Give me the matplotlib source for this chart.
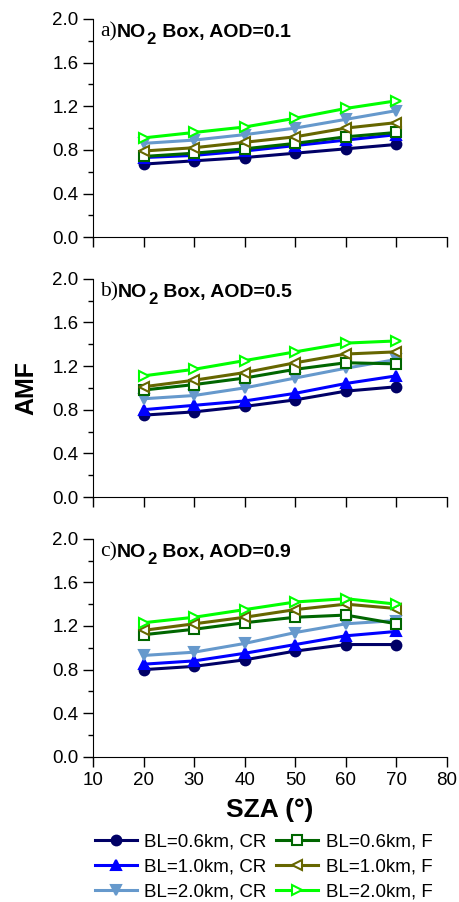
import numpy as np
import matplotlib
matplotlib.use('Agg')
import matplotlib.pyplot as plt
from matplotlib.ticker import MultipleLocator

plt.rcParams['font.family'] = ['Liberation Sans', 'DejaVu Sans']

sza = [20, 30, 40, 50, 60, 70]

# AMF values, panel a (AOD=0.1)
a_06_cr = [0.67, 0.70, 0.73, 0.77, 0.81, 0.85]
a_10_cr = [0.73, 0.75, 0.79, 0.84, 0.89, 0.94]
a_20_cr = [0.86, 0.89, 0.94, 1.00, 1.08, 1.16]
a_06_f = [0.74, 0.77, 0.81, 0.86, 0.92, 0.96]
a_10_f = [0.79, 0.82, 0.87, 0.92, 1.00, 1.05]
a_20_f = [0.91, 0.96, 1.01, 1.09, 1.18, 1.25]

# panel b (AOD=0.5)
b_06_cr = [0.75, 0.78, 0.83, 0.89, 0.97, 1.01]
b_10_cr = [0.80, 0.84, 0.88, 0.95, 1.04, 1.11]
b_20_cr = [0.90, 0.93, 1.00, 1.09, 1.18, 1.26]
b_06_f = [0.98, 1.03, 1.09, 1.17, 1.23, 1.22]
b_10_f = [1.01, 1.07, 1.14, 1.23, 1.31, 1.33]
b_20_f = [1.11, 1.17, 1.25, 1.33, 1.41, 1.43]

# panel c (AOD=0.9)
c_06_cr = [0.80, 0.83, 0.89, 0.97, 1.03, 1.03]
c_10_cr = [0.85, 0.88, 0.95, 1.03, 1.11, 1.15]
c_20_cr = [0.93, 0.96, 1.04, 1.14, 1.22, 1.25]
c_06_f = [1.12, 1.17, 1.23, 1.28, 1.30, 1.22]
c_10_f = [1.16, 1.22, 1.28, 1.35, 1.40, 1.36]
c_20_f = [1.23, 1.28, 1.35, 1.42, 1.45, 1.40]

labels = ['BL=0.6km, CR', 'BL=1.0km, CR', 'BL=2.0km, CR',
          'BL=0.6km, F', 'BL=1.0km, F', 'BL=2.0km, F']
colors = ['#000066', '#0000ff', '#6699cc', '#006600', '#666600', '#00ff00']
markers = ['o', '^', 'v', 's', '<', '>']
filled = [True, True, True, False, False, False]

panels = [
    ('a)', 'AOD=0.1', [a_06_cr, a_10_cr, a_20_cr, a_06_f, a_10_f, a_20_f]),
    ('b)', 'AOD=0.5', [b_06_cr, b_10_cr, b_20_cr, b_06_f, b_10_f, b_20_f]),
    ('c)', 'AOD=0.9', [c_06_cr, c_10_cr, c_20_cr, c_06_f, c_10_f, c_20_f]),
]

fig = plt.figure(figsize=(4.59, 9.02), dpi=100)
left, width = 0.2026, 0.7712
bottoms = [0.737, 0.449, 0.1608]
h = 0.242

axes = []
for (tag, aod, series), b in zip(panels, bottoms):
    ax = fig.add_axes([left, b, width, h])
    axes.append(ax)
    for y, c, m, f, lab in zip(series, colors, markers, filled, labels):
        ax.plot(sza, y, color=c, marker=m, lw=2.2, ms=7.5 if m != 'o' else 7,
                mfc=c if f else 'white', mec=c, mew=1.5, label=lab)
    ax.set_xlim(10, 80)
    ax.set_ylim(0, 2.0)
    ax.xaxis.set_major_locator(MultipleLocator(10))
    ax.yaxis.set_minor_locator(MultipleLocator(0.2))
    ax.spines['top'].set_visible(False)
    ax.spines['right'].set_visible(False)
    ax.tick_params(direction='out', length=7, width=1, labelsize=13.5)
    ax.tick_params(which='minor', direction='out', length=3.5, width=1)
    ax.set_yticks(np.arange(0, 2.01, 0.4))
    ax.set_yticklabels(['%.1f' % v for v in np.arange(0, 2.01, 0.4)])
    # panel tag in serif, then bold title with a big low subscript
    t = ax.text(0.02, 0.985, tag, transform=ax.transAxes, va='top', ha='left',
                fontsize=15.5, family=['Liberation Serif'])
    t1 = ax.annotate('NO', xy=(1, 0), xycoords=t, va='bottom', ha='left',
                     fontsize=14, fontweight='bold')
    t2 = ax.annotate('2', xy=(1, 0), xycoords=t1, xytext=(0.5, -4),
                     textcoords='offset points', va='bottom', ha='left',
                     fontsize=12, fontweight='bold')
    ax.annotate(' Box, ' + aod, xy=(1, 0), xycoords=t1, xytext=(8, 0),
                textcoords='offset points', va='bottom', ha='left',
                fontsize=14, fontweight='bold')
    if b != bottoms[-1]:
        ax.tick_params(labelbottom=False)

axes[1].set_ylabel('AMF', fontsize=18, fontweight='bold', labelpad=10)
axes[2].set_xlabel('SZA (°)', fontsize=19, fontweight='bold', labelpad=7)

handles, labs = axes[2].get_legend_handles_labels()
fig.legend(handles, labs, ncol=2, loc='upper left', bbox_to_anchor=(0.19, 0.084),
           frameon=False, fontsize=13.5, handlelength=2.25, handletextpad=0.4,
           columnspacing=0.5, labelspacing=0.42, borderaxespad=0)

fig.savefig('out.png', dpi=100)
